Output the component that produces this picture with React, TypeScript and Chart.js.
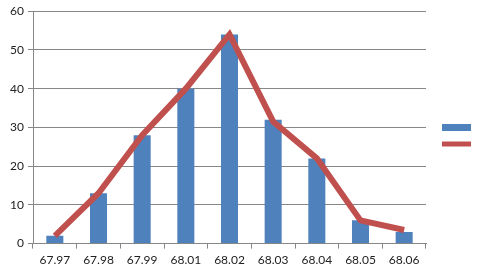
import React, { useEffect, useRef } from "react";
import { Chart, registerables } from "chart.js";

Chart.register(...registerables);

const categories = ["67.97", "67.98", "67.99", "68.01", "68.02", "68.03", "68.04", "68.05", "68.06"];
const barValues = [2, 13, 28, 40, 54, 32, 22, 6, 3];
const lineValues = [2, 13, 28, 40, 54, 31.5, 22, 6, 3.5];
const yTicks = [0, 10, 20, 30, 40, 50, 60];

const BAR_COLOR = "#4F81BD";
const LINE_COLOR = "#C0504D";

const legendPlugin = {
  id: "sideLegend",
  afterDraw(chart: any) {
    const ctx = chart.ctx;
    const x = chart.chartArea.right + 16;
    ctx.save();
    ctx.fillStyle = BAR_COLOR;
    ctx.fillRect(x, 124, 29, 7);
    ctx.strokeStyle = LINE_COLOR;
    ctx.lineWidth = 5;
    ctx.beginPath();
    ctx.moveTo(x, 144);
    ctx.lineTo(x + 29, 144);
    ctx.stroke();
    ctx.restore();
  },
};

export default function App() {
  const ref = useRef<HTMLCanvasElement | null>(null);
  useEffect(() => {
    document.body.style.margin = "0";
    const canvas = ref.current!;
    const chart = new Chart(canvas, {
      type: "bar",
      data: {
        labels: categories,
        datasets: [
          {
            type: "line",
            label: "",
            data: lineValues,
            borderColor: LINE_COLOR,
            backgroundColor: LINE_COLOR,
            borderWidth: 6,
            pointRadius: 0,
            tension: 0,
            order: 0,
          } as any,
          {
            type: "bar",
            label: "",
            data: barValues,
            backgroundColor: BAR_COLOR,
            categoryPercentage: 1,
            barPercentage: 0.39,
            order: 1,
          },
        ],
      },
      options: {
        animation: false,
        responsive: false,
        maintainAspectRatio: false,
        layout: { padding: { left: 0, right: 64, top: 7, bottom: 0 } },
        plugins: { legend: { display: false }, tooltip: { enabled: false } },
        scales: {
          x: {
            offset: true,
            grid: {
              offset: true,
              drawOnChartArea: false,
              drawTicks: true,
              tickLength: 5,
              color: "#878787",
            },
            border: { display: true, color: "#878787" },
            ticks: {
              color: "#222",
              font: { family: "Lato", size: 12 },
              padding: 4,
              maxRotation: 0,
            },
          },
          y: {
            min: 0,
            max: 60,
            afterBuildTicks: (scale: any) => {
              scale.ticks = yTicks.map((v) => ({ value: v }));
            },
            afterFit: (scale: any) => {
              scale.width = 33;
            },
            grid: {
              color: "#878787",
              drawTicks: true,
              tickLength: 5,
            },
            border: { display: true, color: "#878787" },
            ticks: {
              color: "#222",
              font: { family: "Lato", size: 12 },
              padding: 4,
            },
          },
        },
      },
      plugins: [legendPlugin],
    });
    return () => chart.destroy();
  }, []);
  return <canvas ref={ref} width={490} height={271} style={{ display: "block" }} />;
}
